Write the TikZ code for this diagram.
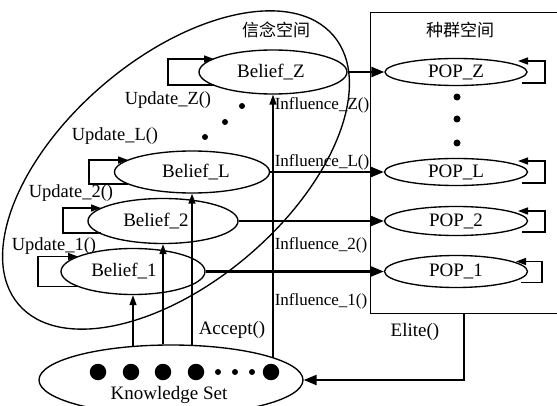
\documentclass[tikz,border=0pt]{standalone}
\usepackage{fontspec}
\setmainfont{Liberation Serif}
\newfontfamily\cjk{Noto Sans CJK SC}
\usetikzlibrary{arrows.meta,calc,shapes.geometric}
\begin{document}
\begin{tikzpicture}[x=1pt,y=-1pt,line width=1.35pt,
  ell/.style={draw,ellipse,inner sep=0pt,font=\fontsize{19}{19}\selectfont},
  lbl/.style={inner sep=0pt,font=\fontsize{18.5}{18.5}\selectfont},
  inf/.style={inner sep=0pt,font=\fontsize{17}{17}\selectfont},
  ttl/.style={inner sep=0pt,font=\cjk\fontsize{17}{17}\selectfont},
  thickarrow/.style={line width=2.3pt,-{Triangle[length=13pt,width=10pt]}},
  thinarrow/.style={line width=1.35pt,-{Triangle[length=10pt,width=7pt]}},
  looparrow/.style={line width=1.35pt,-{Triangle[length=10pt,width=7pt]}},
  kdot/.style={circle,fill,inner sep=0pt,minimum size=#1}
]
\useasboundingbox (0,0) rectangle (557,406);
\clip (0,0) rectangle (557,406);
% belief space outline
\draw[rotate around={40.5:(176,170)}] (176,170) ellipse [x radius=207pt,y radius=112pt];
% population box
\node[draw,anchor=north west,inner sep=0pt,minimum width=200pt,minimum height=301pt] (popbox) at (370,12) {};
\node[ttl] (t1) at (276,30) {信念空间};
\node[ttl] (t2) at (460,30) {种群空间};
% belief nodes
\node[ell,minimum width=148pt,minimum height=44pt] (bz) at (273,72) {Belief\_Z\hspace*{4pt}};
\node[ell,minimum width=155pt,minimum height=42pt] (bl) at (192,172) {\hspace*{8pt}Belief\_L};
\node[ell,minimum width=150pt,minimum height=45pt] (b2) at (163,221) {Belief\_2\hspace*{14pt}};
\node[ell,minimum width=144pt,minimum height=46pt] (b1) at (133,271.5) {Belief\_1\hspace*{18pt}};
% pop nodes
\node[ell,minimum width=142pt,minimum height=27pt] (pz) at (456,72) {POP\_Z};
\node[ell,minimum width=143pt,minimum height=27pt] (pl) at (456,172) {POP\_L};
\node[ell,minimum width=143pt,minimum height=29pt] (p2) at (456,221) {POP\_2};
\node[ell,minimum width=143pt,minimum height=32pt] (p1) at (456,271.5) {POP\_1};
% knowledge set
\node[ell,minimum width=264pt,minimum height=70pt] (ks) at (171,380) {};
\node[inner sep=0pt,font=\fontsize{19}{19}\selectfont] (ksl) at (169,395) {Knowledge Set};
\foreach \x/\n in {98/a,131/b,163/c,196/d,271/e} \node[kdot=16.5pt] (kd\n) at (\x,372) {};
\foreach \x/\n in {218/f,235/g,252/h} \node[kdot=6pt] (kd\n) at (\x,372) {};
% dots
\node[kdot=6pt] (bd1) at (242,106) {};
\node[kdot=6pt] (bd2) at (225,122) {};
\node[kdot=6pt] (bd3) at (205,137) {};
\node[kdot=7pt] (pd1) at (457,97) {};
\node[kdot=7pt] (pd2) at (457,119) {};
\node[kdot=7pt] (pd3) at (457,143) {};
% labels
\node[lbl] (uz) at (168,100) {Update\_Z()};
\node[lbl] (ul) at (115,136) {Update\_L()};
\node[lbl] (u2) at (71,193) {Update\_2()};
\node[lbl] (u1) at (54,246) {Update\_1()};
\node[inf] (iz) at (322,105) {Influence\_Z()};
\node[inf] (il) at (322,162) {Influence\_L()};
\node[inf] (i2) at (321,245) {Influence\_2()};
\node[inf] (i1) at (321,301) {Influence\_1()};
\node[lbl,font=\fontsize{19}{19}\selectfont] (acc) at (232,330) {Accept()};
\node[lbl,font=\fontsize{19}{19}\selectfont] (eli) at (415,332) {Elite()};
% influence arrows
\draw[thickarrow] (bz.east) -- (pz.west);
\draw[thickarrow] (bl.east) -- (pl.west);
\draw[thickarrow] (b2.east) -- (p2.west);
\draw[thickarrow] (b1.east) -- (p1.west);
% accept arrows
\draw[thinarrow] (ks.138.6 -| b1.south) -- (b1.south);
\draw[thinarrow] (ks.102.9 -| b2.south) -- (b2.south);
\draw[thinarrow] (ks.58.7 -| bl.south) -- (bl.south);
\draw[thinarrow] (ks.12.3 -| bz.south) -- (bz.south);
% elite
\coordinate (elitestart) at (464,313);
\draw[thickarrow] (elitestart) |- (ks.east);
% update loops
\draw[looparrow] ($(bz)+(-59,13)$) -- ++(-46,0) |- ($(bz)+(-59,-13)$);
\draw[looparrow] ($(bl)+(-64,12)$) -- ++(-39,0) |- ($(bl)+(-64,-12)$);
\draw[looparrow] ($(b2)+(-62,12)$) -- ++(-38,0) |- ($(b2)+(-62,-13)$);
\draw[looparrow] ($(b1)+(-55,15)$) -- ++(-40,0) |- ($(b1)+(-55,-15)$);
% pop loops
\draw[looparrow] ($(pz)+(66,11)$) -- ++(23,0) |- ($(pz)+(62,-11)$);
\draw[looparrow] ($(pl)+(66,11)$) -- ++(23,0) |- ($(pl)+(62,-11)$);
\draw[looparrow] ($(p2)+(66,11)$) -- ++(23,0) |- ($(p2)+(62,-10)$);
\draw[looparrow] ($(p1)+(65,11)$) -- ++(21,0) |- ($(p1)+(60,-10)$);
\end{tikzpicture}
\end{document}
